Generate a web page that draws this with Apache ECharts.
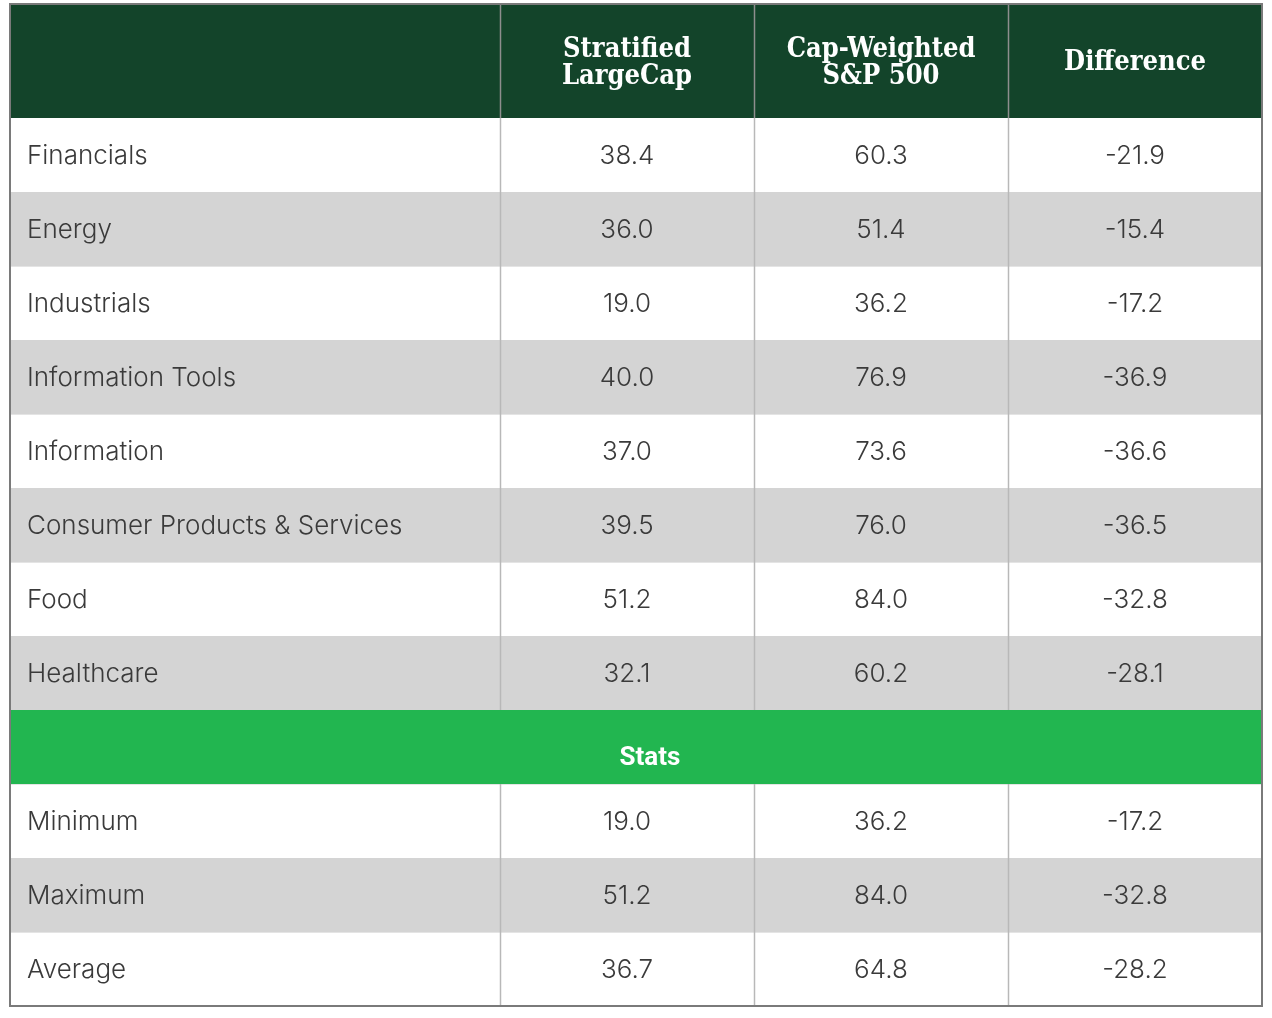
<!DOCTYPE html>
<html><head><meta charset="utf-8">
<script src="https://cdn.jsdelivr.net/npm/echarts@6/dist/echarts.min.js"></script>
<style>html,body{margin:0;padding:0;background:#fff}#c{width:1272px;height:1018px}</style>
</head><body><div id="c"></div><script>
// ---- data ----
const headers = ['', 'Stratified\nLargeCap', 'Cap-Weighted\nS&P 500', 'Difference'];
const sectors = ['Financials','Energy','Industrials','Information Tools','Information','Consumer Products & Services','Food','Healthcare'];
const stratified = [38.4,36.0,19.0,40.0,37.0,39.5,51.2,32.1];
const capWeighted = [60.3,51.4,36.2,76.9,73.6,76.0,84.0,60.2];
const difference = [-21.9,-15.4,-17.2,-36.9,-36.6,-36.5,-32.8,-28.1];
const statsTitle = 'Stats';
const statLabels = ['Minimum','Maximum','Average'];
const statStratified = [19.0,51.2,36.7];
const statCap = [36.2,84.0,64.8];
const statDiff = [-17.2,-32.8,-28.2];

// ---- layout (table units) ----
const colWidths = [490, 254, 254, 254];
const headerH = 114, rowH = 74;
const colEdges = [0]; colWidths.forEach(w => colEdges.push(colEdges[colEdges.length-1] + w));
const nRows = 1 + sectors.length + 1 + statLabels.length;
const rowEdges = [0, headerH]; for (let i = 1; i < nRows; i++) rowEdges.push(rowEdges[rowEdges.length-1] + rowH);
const totalW = colEdges[colEdges.length-1], totalH = rowEdges[rowEdges.length-1];

// ---- build cells ----
const cells = [];
headers.forEach((h, c) => cells.push({c, r:0, text:h, kind:'head'}));
const fmt = v => v.toFixed(1);
sectors.forEach((s, i) => {
  const r = 1 + i, band = i % 2;
  [s, fmt(stratified[i]), fmt(capWeighted[i]), fmt(difference[i])].forEach((t, c) => cells.push({c, r, text:t, kind:'body', band}));
});
const statsRow = 1 + sectors.length;
cells.push({c:0, r:statsRow, text:statsTitle, kind:'stats', span:4});
statLabels.forEach((s, i) => {
  const r = statsRow + 1 + i, band = i % 2;
  [s, fmt(statStratified[i]), fmt(statCap[i]), fmt(statDiff[i])].forEach((t, c) => cells.push({c, r, text:t, kind:'body', band}));
});

const bodyFont = 'Inter, Roboto, "Liberation Sans", sans-serif';
const statsFont = 'Roboto, "Liberation Sans", sans-serif';
const headFont = '"DejaVu Serif Condensed", "DejaVu Serif", serif';

function renderCell(params, api) {
  const cell = cells[params.dataIndex];
  const c = api.value(0), r = api.value(1);
  const cEnd = c + (cell.span || 1);
  const p0 = api.coord([colEdges[c], rowEdges[r]]);
  const p1 = api.coord([colEdges[cEnd], rowEdges[r + 1]]);
  const x = p0[0], y = p0[1], w = p1[0] - p0[0], h = p1[1] - p0[1];
  const children = [];
  let fill = '#ffffff';
  if (cell.kind === 'head') fill = '#13442a';
  else if (cell.kind === 'stats') fill = '#22b650';
  else if (cell.band === 1) fill = '#d4d4d4';
  children.push({type:'rect', shape:{x, y, width:w, height:h}, style:{fill}});
  if (cell.kind === 'body' && cell.band === 0 && r > 1) {
    children.push({type:'line', shape:{x1:x, y1:y+0.5, x2:x+w, y2:y+0.5}, style:{stroke:'#e4e4e4', lineWidth:1}});
  }
  if (c > 0 && cell.kind !== 'stats') {
    children.push({type:'line', shape:{x1:x+0.5, y1:y, x2:x+0.5, y2:y+h}, style:{stroke: cell.kind==='head' ? '#8e8e8e' : '#b8b8b8', lineWidth:1.5}});
  }
  if (cell.text) {
    let style;
    if (cell.kind === 'head') {
      style = {text:cell.text, x:x+w/2, y:y+h/2+2, align:'center', verticalAlign:'middle', fill:'#ffffff',
        font:'bold 27px ' + headFont, lineHeight:27};
    } else if (cell.kind === 'stats') {
      style = {text:cell.text, x:x+w/2+14, y:y+h/2+11, align:'center', verticalAlign:'middle', fill:'#ffffff',
        font:'bold 26px ' + statsFont};
    } else {
      style = {text:cell.text, x: c === 0 ? x+17 : x+w/2, y:y+h/2+1, align: c === 0 ? 'left' : 'center', verticalAlign:'middle',
        fill:'#3a3a3a', font:'300 26px ' + bodyFont};
    }
    children.push({type:'text', style});
  }
  return {type:'group', children};
}

function renderFrame(params, api) {
  const p0 = api.coord([0, 0]), p1 = api.coord([totalW, totalH]);
  return {type:'rect', shape:{x:p0[0], y:p0[1], width:p1[0]-p0[0], height:p1[1]-p0[1]},
    style:{fill:'none', stroke:'#7a7a7a', lineWidth:2}};
}

const chart = echarts.init(document.getElementById('c'), null, {renderer:'canvas'});
chart.setOption({
  animation:false,
  grid:{left:10, top:4, width:totalW, height:totalH, containLabel:false},
  xAxis:{type:'value', min:0, max:totalW, show:false},
  yAxis:{type:'value', min:0, max:totalH, inverse:true, show:false},
  series:[
    {type:'custom', renderItem:renderCell, data:cells.map(d => [d.c, d.r]), silent:true, clip:false},
    {type:'custom', renderItem:renderFrame, data:[[0,0]], silent:true, clip:false, z:5}
  ]
});
</script></body></html>
